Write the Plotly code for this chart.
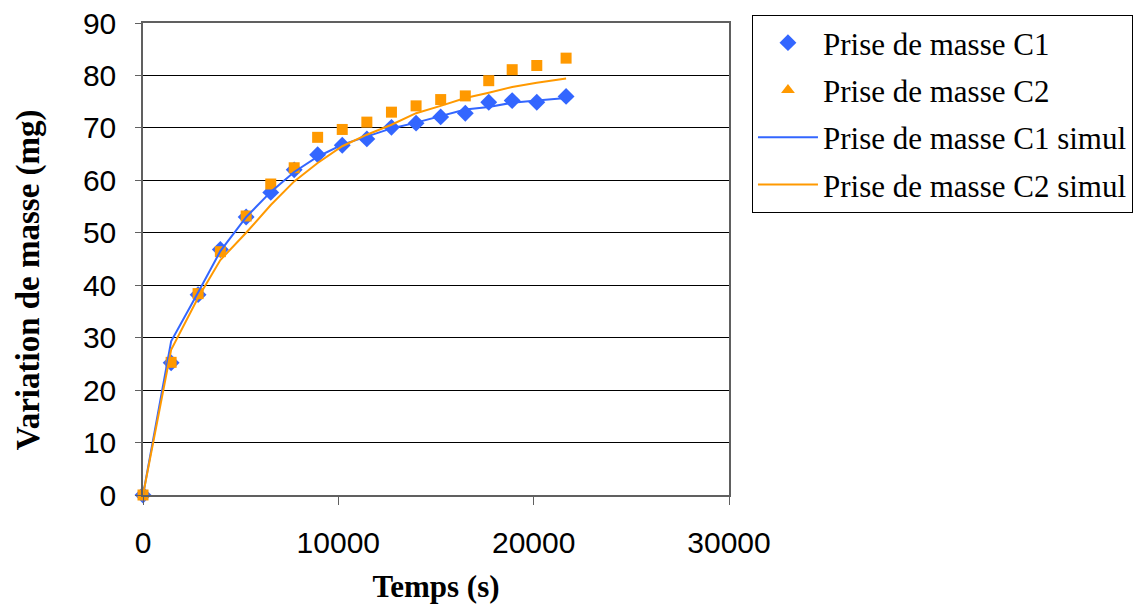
import plotly.graph_objects as go

time_s = [0, 1440, 2820, 3960, 5280, 6540, 7740, 8940, 10200, 11460, 12720,
          13980, 15240, 16500, 17700, 18900, 20160, 21660]
c1_measured = [0, 25.2, 38.2, 46.8, 53.0, 57.7, 62.0, 64.9, 66.7, 67.9, 70.1,
               70.9, 72.1, 72.8, 74.9, 75.2, 74.9, 76.0]
c2_measured = [0, 25.3, 38.4, 46.4, 53.2, 59.3, 62.4, 68.2, 69.7, 71.1, 73.0,
               74.2, 75.4, 76.1, 79.0, 81.1, 81.9, 83.3]
c1_simul = [0, 29.3, 38.6, 46.5, 53.0, 57.8, 61.6, 64.5, 66.8, 68.3, 69.9,
            71.0, 72.2, 73.5, 74.0, 74.8, 75.2, 75.7]
c2_simul = [0, 27.7, 37.6, 44.8, 50.0, 55.3, 59.8, 63.3, 66.5, 68.7, 70.6,
            72.8, 74.2, 75.7, 76.7, 77.8, 78.6, 79.4]
x_ticks = [0, 10000, 20000, 30000]
x_tick_labels = ["0", "10000", "20000", "30000"]

names = ["Prise de masse C1", "Prise de masse C2",
         "Prise de masse C1 simul", "Prise de masse C2 simul"]
blue = "#3366FF"
orange = "#FF9900"

fig = go.Figure()
fig.add_trace(go.Scatter(x=time_s, y=c1_measured, mode="markers", name=names[0],
                         legendgroup="a", cliponaxis=False,
                         marker=dict(symbol="diamond", size=13, color=blue)))
fig.add_trace(go.Scatter(x=time_s, y=c2_measured, mode="markers", name=names[1],
                         legendgroup="b", showlegend=False, cliponaxis=False,
                         marker=dict(symbol="square", size=11, color=orange)))
fig.add_trace(go.Scatter(x=[None], y=[None], mode="markers", name=names[1],
                         legendgroup="b",
                         marker=dict(symbol="triangle-up", size=12, color=orange)))
fig.add_trace(go.Scatter(x=time_s, y=c1_simul, mode="lines", name=names[2],
                         legendgroup="c", line=dict(color=blue, width=2)))
fig.add_trace(go.Scatter(x=time_s, y=c2_simul, mode="lines", name=names[3],
                         legendgroup="d", line=dict(color=orange, width=2)))

# page body has an 8px default margin: figure is drawn at (8, 8)
fig.update_layout(
    width=1140, height=598,
    margin=dict(l=135, r=419, t=15, b=111),
    paper_bgcolor="white", plot_bgcolor="white",
    font=dict(family="Liberation Sans", size=30, color="black"),
    showlegend=True,
    legend=dict(xref="container", yref="container",
                x=0.6526, xanchor="left", y=0.9883, yanchor="top",
                bordercolor="black", borderwidth=1, bgcolor="white",
                font=dict(family="Liberation Serif", size=31, color="black"),
                tracegroupgap=4, traceorder="grouped", itemwidth=60),
    xaxis=dict(range=[0, 30000], tickvals=x_ticks, ticktext=x_tick_labels,
               showgrid=False, zeroline=False, automargin=False,
               showline=True, linecolor="#606060", linewidth=1.5, mirror=True,
               ticks="outside", ticklen=8, tickcolor="#606060",
               ticklabelstandoff=12, ticklabeloverflow="allow",
               title=dict(text="<b>Temps (s)</b>", standoff=18,
                          font=dict(family="Liberation Serif", size=31))),
    yaxis=dict(range=[0, 90], dtick=10, showgrid=True, gridcolor="black",
               gridwidth=1, zeroline=False, automargin=False,
               showline=True, linecolor="#606060", linewidth=1.5, mirror=True,
               ticks="outside", ticklen=6, tickcolor="#606060",
               ticklabelstandoff=13, ticklabeloverflow="allow"),
    annotations=[dict(text="<b>Variation de masse (mg)</b>", textangle=-90,
                      xref="paper", yref="paper", x=-0.196, y=0.4555,
                      xanchor="center", yanchor="middle", showarrow=False,
                      font=dict(family="Liberation Serif", size=33,
                                color="black"))],
)

fig.write_html("out.html")
